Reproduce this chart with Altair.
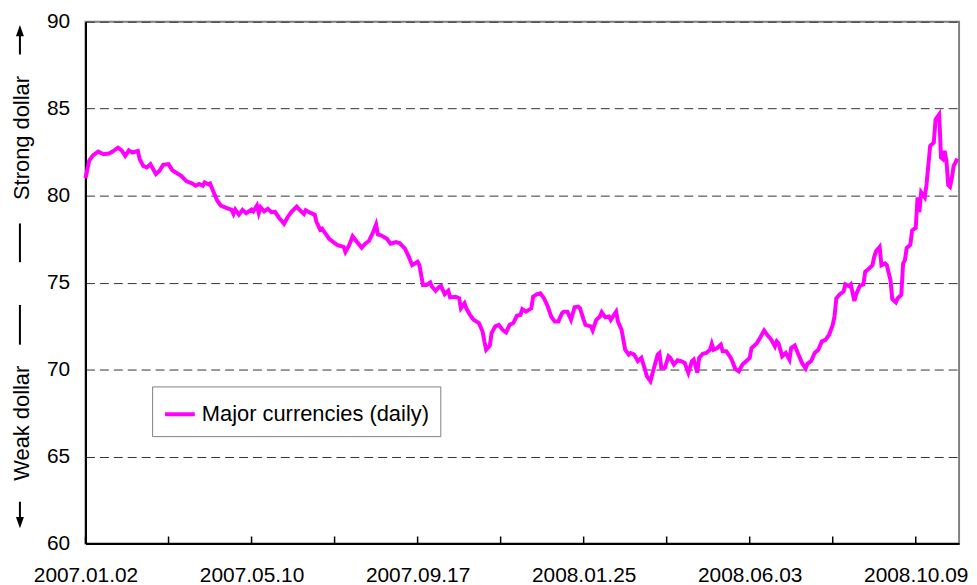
import json
import pandas as pd
import altair as alt

FONT = "Liberation Sans"

# business-day index (0 = 2007.01.02) and index level
day_index = [
    0, 2, 4, 7, 10, 13, 15, 18, 20, 22,
    24, 26, 29, 30, 32, 34, 36, 37, 39, 41,
    43, 46, 48, 50, 53, 56, 59, 61, 63, 65,
    66, 68, 69, 71, 73, 75, 78, 81, 82, 83,
    85, 87, 89, 92, 93, 95, 96, 97, 99, 101,
    103, 105, 107, 110, 112, 114, 117, 119, 121, 122,
    125, 127, 128, 130, 131, 133, 135, 138, 140, 143,
    144, 146, 148, 150, 153, 155, 157, 159, 161, 162,
    164, 167, 169, 172, 174, 177, 179, 181, 184, 185,
    187, 189, 191, 192, 194, 196, 197, 199, 201, 202,
    205, 207, 208, 210, 211, 213, 215, 218, 220, 221,
    222, 224, 225, 227, 229, 231, 233, 235, 237, 239,
    241, 242, 244, 247, 248, 250, 252, 254, 256, 258,
    260, 262, 264, 265, 267, 269, 271, 273, 274, 276,
    277, 280, 281, 283, 285, 286, 288, 290, 291, 294,
    295, 297, 299, 301, 302, 304, 306, 308, 310, 311,
    313, 315, 317, 318, 319, 321, 323, 324, 326, 328,
    330, 332, 334, 336, 337, 339, 340, 342, 344, 346,
    347, 348, 350, 352, 353, 355, 357, 358, 360, 362,
    364, 366, 368, 369, 370, 372, 374, 376, 378, 380,
    382, 383, 384, 386, 388, 390, 391, 393, 395, 397,
    399, 400, 402, 404, 406, 408, 410, 412, 414, 415,
    416, 418, 420, 421, 423, 424, 426, 427, 429, 431,
    432, 434, 436, 437, 438, 440, 441, 443, 444, 446,
    447, 449, 450, 452, 453, 454, 455, 457, 458, 460,
    461, 462, 463, 465, 466, 468, 470, 471, 473, 474,
    475, 476, 477, 478, 479, 480, 481, 482, 483,
]
index_value = [
    81.0, 82.0, 82.3, 82.53, 82.38, 82.42, 82.53, 82.76, 82.6, 82.29,
    82.6, 82.48, 82.57, 82.1, 81.71, 81.62, 81.81, 81.62, 81.24, 81.43,
    81.77, 81.81, 81.47, 81.33, 81.14, 80.82, 80.71, 80.57, 80.67, 80.57,
    80.76, 80.65, 80.7, 80.19, 79.71, 79.43, 79.3, 79.18, 78.95, 79.2,
    78.91, 79.18, 78.99, 79.2, 79.1, 79.43, 79.0, 79.33, 79.1, 79.24,
    79.05, 79.07, 78.76, 78.38, 78.76, 79.05, 79.37, 79.14, 78.95, 79.16,
    78.99, 78.9, 78.48, 78.04, 78.1, 77.81, 77.52, 77.27, 77.14, 77.05,
    76.76, 77.14, 77.66, 77.39, 77.01, 77.24, 77.39, 77.81, 78.34, 77.77,
    77.7, 77.52, 77.24, 77.33, 77.27, 76.95, 76.51, 76.0, 76.19, 76.0,
    74.86, 74.86, 75.0, 74.76, 74.53, 74.76, 74.8, 74.34, 74.53, 74.15,
    74.19, 74.1, 73.52, 73.81, 73.52, 73.14, 72.86, 72.67, 72.19, 71.62,
    71.14, 71.37, 72.1, 72.48, 72.57, 72.29, 72.13, 72.57, 72.67, 73.09,
    73.14, 73.47, 73.33, 73.52, 74.19, 74.32, 74.38, 74.1, 73.66, 73.05,
    72.76, 72.76, 73.24, 73.33, 73.33, 72.86, 73.58, 73.62, 73.52, 72.86,
    72.57, 72.48, 72.25, 72.86, 73.05, 73.3, 73.0, 73.05, 72.86, 73.33,
    72.76, 72.29, 71.14, 70.86, 70.95, 70.86, 70.48, 70.67, 70.0, 69.62,
    69.33, 70.1, 70.86, 70.95, 70.1, 70.1, 70.76, 70.67, 70.29, 70.53,
    70.48, 70.38, 69.81, 70.48, 70.57, 69.81, 70.67, 70.91, 70.95, 71.14,
    71.48, 71.14, 71.24, 71.43, 71.05, 71.05, 70.76, 70.57, 70.04, 69.9,
    70.29, 70.48, 70.67, 71.24, 71.33, 71.52, 71.87, 72.25, 71.95, 71.71,
    71.33, 71.62, 71.5, 70.76, 70.95, 70.57, 71.24, 71.38, 70.86, 70.38,
    70.06, 70.33, 70.48, 70.95, 71.14, 71.62, 71.71, 72.0, 72.57, 73.05,
    74.1, 74.33, 74.48, 74.9, 74.8, 74.9, 73.94, 74.33, 74.8, 74.9,
    75.62, 75.8, 76.0, 76.48, 76.8, 77.05, 76.0, 76.1, 76.0, 75.14,
    74.05, 73.86, 74.1, 74.29, 76.1, 76.29, 76.99, 77.18, 78.0, 78.14,
    79.9, 79.05, 80.19, 79.9, 80.67, 82.86, 83.05, 84.38, 84.67, 82.19,
    82.1, 82.57, 82.0, 80.6, 80.5, 81.0, 81.71, 81.9, 82.13,
]

tick_positions = [0, 46, 92, 138, 184, 230, 276, 322, 368, 414, 460]
tick_labels = ["2007.01.02", "2007.05.10", "2007.09.17",
               "2008.01.25", "2008.06.03", "2008.10.09"]
y_ticks = [60, 65, 70, 75, 80, 85, 90]
series_name = "Major currencies (daily)"

df = pd.DataFrame({"day": day_index, "value": index_value})
df["series"] = series_name

label_expr = ("datum.value % 92 == 0 ? " + json.dumps(tick_labels) +
              "[datum.value / 92] : ''")

x_scale = alt.Scale(domain=[0, 484], nice=False, zero=False)
y_scale = alt.Scale(domain=[60, 90], nice=False, zero=False)

x_axis = alt.Axis(values=tick_positions, labelExpr=label_expr, ticks=False,
                  grid=False, title=None, labelFlush=False, labelOverlap=False,
                  labelPadding=21, labelFontSize=21, labelColor="black",
                  domainColor="black", domainWidth=2)
y_axis = alt.Axis(values=y_ticks, title=None, ticks=False, grid=True,
                  gridDash=[9, 5], gridColor="#333333", gridWidth=1,
                  labelPadding=16, labelFontSize=21, labelColor="black",
                  domainColor="black", domainWidth=2)

line = alt.Chart(df).mark_line(strokeWidth=4).encode(
    x=alt.X("day:Q", scale=x_scale, axis=x_axis),
    y=alt.Y("value:Q", scale=y_scale, axis=y_axis),
    color=alt.Color("series:N",
                    scale=alt.Scale(domain=[series_name], range=["#FF00FF"]),
                    legend=alt.Legend(title=None, orient="none",
                                      legendX=67, legendY=367)),
)

ticks = alt.Chart(pd.DataFrame({"day": tick_positions})).mark_rule(
    color="black", strokeWidth=1.5
).encode(
    x=alt.X("day:Q", scale=x_scale, axis=x_axis),
    y=alt.value(518), y2=alt.value(525),
)

one = pd.DataFrame({"t": ["Strong dollar"]})
strong = alt.Chart(one).mark_text(
    angle=270, fontSize=22, font=FONT, baseline="middle", align="center", color="black"
).encode(text="t:N", x=alt.value(-64), y=alt.value(117))

weak = alt.Chart(pd.DataFrame({"t": ["Weak dollar"]})).mark_text(
    angle=270, fontSize=22, font=FONT, baseline="middle", align="center", color="black"
).encode(text="t:N", x=alt.value(-64), y=alt.value(404))

bar1 = alt.Chart(one).mark_rule(color="black", strokeWidth=2).encode(
    x=alt.value(-66), y=alt.value(203), y2=alt.value(242))
bar2 = alt.Chart(one).mark_rule(color="black", strokeWidth=2).encode(
    x=alt.value(-66), y=alt.value(285), y2=alt.value(325))
up_line = alt.Chart(one).mark_rule(color="black", strokeWidth=2).encode(
    x=alt.value(-66), y=alt.value(12), y2=alt.value(33))
down_line = alt.Chart(one).mark_rule(color="black", strokeWidth=2).encode(
    x=alt.value(-66), y=alt.value(483), y2=alt.value(501))
up_head = alt.Chart(one).mark_point(
    shape="M0,-1L0.7,1L-0.7,1Z", filled=True, color="black", size=130, opacity=1
).encode(x=alt.value(-66), y=alt.value(9))
down_head = alt.Chart(one).mark_point(
    shape="M0,1L0.7,-1L-0.7,-1Z", filled=True, color="black", size=130, opacity=1
).encode(x=alt.value(-66), y=alt.value(504))

chart = alt.layer(
    line, ticks, strong, weak, bar1, bar2, up_line, down_line, up_head, down_head
).properties(
    width=879, height=525,
    autosize=alt.AutoSizeParams(type="none"),
    padding={"left": 78, "top": 12, "right": 10, "bottom": 40},
).configure_view(
    stroke="#808080", strokeWidth=2
).configure_axis(
    labelFont=FONT
).configure_legend(
    labelFont=FONT, labelFontSize=22, labelColor="black", labelLimit=0,
    symbolType="stroke", symbolStrokeWidth=4, symbolSize=900,
    padding=11, strokeColor="#808080", fillColor="white", labelOffset=5,
)

chart.save("out.html", embed_options={"renderer": "svg", "actions": False})
